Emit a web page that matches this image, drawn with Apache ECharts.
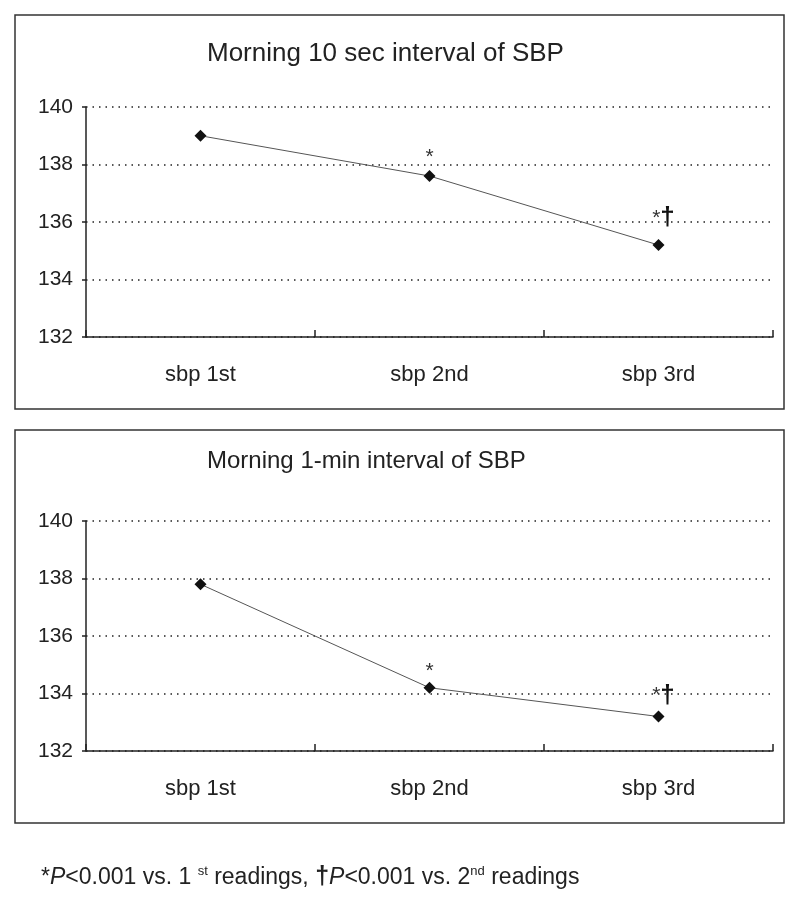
<!DOCTYPE html>
<html><head><meta charset="utf-8">
<script src="https://cdn.jsdelivr.net/npm/echarts@6/dist/echarts.min.js"></script>
<style>html,body{margin:0;padding:0;background:#fff}#c{width:800px;height:901px}</style>
</head><body><div id="c"></div>
<script>
const categories = ['sbp 1st', 'sbp 2nd', 'sbp 3rd'];
const sbp10sec = [139.0, 137.6, 135.2];
const sbp1min = [137.8, 134.2, 133.2];
const marks = ['', '*', '*†'];
const yTicks = [132, 134, 136, 138, 140];
const title1 = 'Morning 10 sec interval of SBP';
const title2 = 'Morning 1-min interval of SBP';

const FONT = '"Liberation Sans", Arial, sans-serif';
const chart = echarts.init(document.getElementById('c'));

function xAxis(gi) {
  return {
    type: 'category', gridIndex: gi, data: categories, boundaryGap: true,
    axisLine: {lineStyle: {color: '#222', width: 1.5}},
    axisTick: {show: true, inside: true, length: 7, lineStyle: {color: '#222', width: 1.5}},
    axisLabel: {color: '#222', fontSize: 22, fontFamily: FONT, margin: 27}
  };
}
function yAxis(gi) {
  return {
    type: 'value', gridIndex: gi, min: yTicks[0], max: yTicks[yTicks.length - 1], interval: 2,
    axisLine: {show: true, lineStyle: {color: '#222', width: 1.5}},
    axisTick: {show: true, length: 4, lineStyle: {color: '#222', width: 1.5}},
    axisLabel: {color: '#222', fontSize: 21, fontFamily: FONT, margin: 13},
    splitLine: {show: true, lineStyle: {color: '#222', type: [1.5, 5], width: 1.5}}
  };
}
function series(gi, values, offs) {
  return {
    type: 'line', xAxisIndex: gi, yAxisIndex: gi,
    data: values.map((v, i) => ({
      value: v,
      label: {show: marks[i] !== '', offset: offs[i]}
    })),
    symbol: 'diamond', symbolSize: 12,
    itemStyle: {color: '#111'},
    lineStyle: {color: '#555', width: 1},
    label: {
      position: 'top', distance: 6,
      formatter: p => {
        const m = marks[p.dataIndex];
        return m.replace('*', '{a|*}').replace('†', '{d|†}');
      },
      rich: {
        a: {fontSize: 21, color: '#333', fontFamily: FONT},
        d: {fontSize: 26, color: '#111', fontFamily: FONT, fontWeight: 'bold'}
      }
    },
    z: 5
  };
}

chart.setOption({
  animation: false,
  title: [
    {text: title1, left: 207, top: 41, padding: 0, textStyle: {fontSize: 26, fontWeight: 'normal', color: '#222', fontFamily: FONT}},
    {text: title2, left: 207, top: 449, padding: 0, textStyle: {fontSize: 24, fontWeight: 'normal', color: '#222', fontFamily: FONT}},
    {text: '{a|*}{i|P}{a|<0.001 vs. 1 }{s|st}{a| readings, }{d|†}{i|P}{a|<0.001 vs. 2}{s|nd}{a| readings}',
     left: 36, top: 860,
     textStyle: {fontWeight: 'normal', rich: {
       a: {fontSize: 23, color: '#222', fontFamily: FONT, fontWeight: 'normal'},
       i: {fontSize: 23, color: '#222', fontFamily: FONT, fontStyle: 'italic', fontWeight: 'normal'},
       d: {fontSize: 25, color: '#222', fontFamily: FONT, fontWeight: 'bold'},
       s: {fontSize: 13, color: '#222', fontFamily: FONT, fontWeight: 'normal', verticalAlign: 'top', padding: [0, 0, 11, 0]}
     }}}
  ],
  graphic: [
    {type: 'rect', shape: {x: 15, y: 15, width: 769, height: 394}, style: {fill: 'none', stroke: '#333', lineWidth: 1.5}},
    {type: 'rect', shape: {x: 15, y: 430, width: 769, height: 393}, style: {fill: 'none', stroke: '#333', lineWidth: 1.5}}
  ],
  grid: [
    {left: 86, right: 27, top: 107, height: 230},
    {left: 86, right: 27, top: 521, height: 230}
  ],
  xAxis: [xAxis(0), xAxis(1)],
  yAxis: [yAxis(0), yAxis(1)],
  series: [
    series(0, sbp10sec, [[0, 0], [0, 4], [5, -2]]),
    series(1, sbp1min, [[0, 0], [0, 6], [5, 4]])
  ]
});
</script></body></html>
